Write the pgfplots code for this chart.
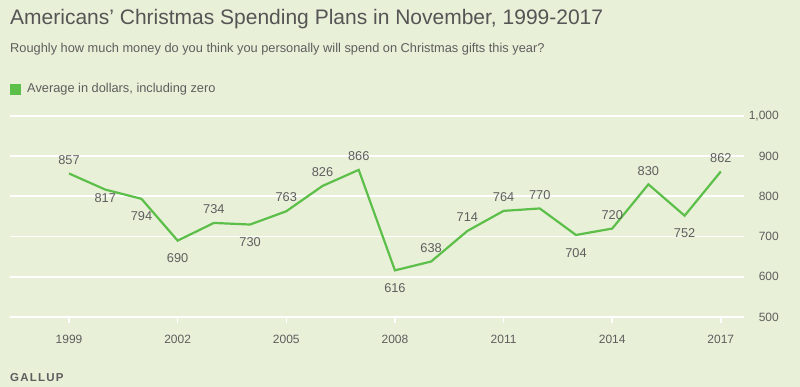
\documentclass[border=0pt]{standalone}
\usepackage{pgfplots}
\pgfplotsset{compat=1.18}
\usepackage{fontspec}
\setmainfont{Liberation Sans}
\definecolor{bg}{HTML}{E9F0D8}
\definecolor{txt}{HTML}{5E5E5E}
\definecolor{ttl}{HTML}{555555}
\definecolor{lgreen}{HTML}{5CBF4A}
\begin{document}
\begin{tikzpicture}[x=1pt,y=1pt]
\fill[bg] (0,0) rectangle (800,387);
\node[anchor=base west, inner sep=0, text=ttl, font=\fontsize{21}{23}\selectfont] at (10,362) {Americans’ Christmas Spending Plans in November, 1999-2017};
\node[anchor=base west, inner sep=0, text=txt, font=\fontsize{12.8}{14}\selectfont] at (10,334) {Roughly how much money do you think you personally will spend on Christmas gifts this year?};
\fill[lgreen] (10,292) rectangle (21,303);
\node[anchor=base west, inner sep=0, text=txt, font=\fontsize{12.8}{14}\selectfont] at (27,294) {Average in dollars, including zero};
\node[anchor=base west, inner sep=0, text=txt, font=\bfseries\fontsize{11.5}{13}\selectfont] at (10,5) {G\hspace{1.2pt}A\hspace{1.2pt}L\hspace{1.2pt}L\hspace{1.2pt}U\hspace{1.2pt}P};
\begin{axis}[
  at={(10pt,70pt)}, anchor=south west,
  scale only axis, width=734pt, height=201pt,
  xmin=1997.37, xmax=2017.64, ymin=500, ymax=1000,
  axis line style={draw=none},
  ytick={500,600,...,1000},
  xtick={1999,2002,...,2017},
  ymajorgrids, grid style={white, line width=1.8pt},
  ytick style={draw=none},
  xtick style={white, line width=1.5pt},
  xtick pos=left, tick align=outside, major tick length=6pt,
  yticklabel pos=right,
  yticklabel style={anchor=east, xshift=29pt, inner sep=0pt, text=txt, font=\fontsize{12}{14}\selectfont},
  xticklabel style={text=txt, font=\fontsize{12}{14}\selectfont, yshift=-9pt},
  /pgf/number format/assume math mode=true,
  /pgf/number format/1000 sep={,},
  xticklabel={\pgfmathprintnumber[/pgf/number format/1000 sep={}]{\tick}},
  clip=false,
  nodes near coords style={text=txt, font=\fontsize{12.8}{14}\selectfont, inner sep=0pt},
]
\addplot[lgreen, line width=2.2pt, mark=none] coordinates {
(1999,857)(2000,817)(2001,794)(2002,690)(2003,734)(2004,730)(2005,763)(2006,826)(2007,866)(2008,616)(2009,638)(2010,714)(2011,764)(2012,770)(2013,704)(2014,720)(2015,830)(2016,752)(2017,862)};
% labels above
\addplot[draw=none, mark=none, nodes near coords, nodes near coords align={anchor=south}, nodes near coords style={yshift=9pt}] coordinates {
(1999,857)(2003,734)(2005,763)(2006,826)(2007,866)(2009,638)(2010,714)(2011,764)(2012,770)(2014,720)(2015,830)(2017,862)};
% labels below
\addplot[draw=none, mark=none, nodes near coords, nodes near coords align={anchor=north}, nodes near coords style={yshift=-13pt}] coordinates {
(2001,794)(2002,690)(2004,730)(2008,616)(2013,704)(2016,752)};
\addplot[draw=none, mark=none, nodes near coords, nodes near coords align={anchor=north}, nodes near coords style={yshift=-4pt}] coordinates {
(2000,817)};
\end{axis}
\end{tikzpicture}
\end{document}
